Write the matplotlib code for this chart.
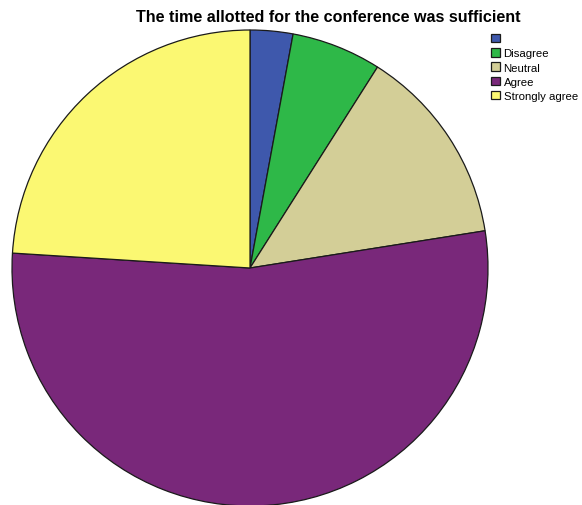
import matplotlib
matplotlib.use("Agg")
import matplotlib.pyplot as plt

plt.rcParams['font.family'] = ['Liberation Sans', 'DejaVu Sans']

# Response shares (percent), clockwise from 12 o'clock
labels = ["", "Disagree", "Neutral", "Agree", "Strongly agree"]
values = [2.9, 6.1, 13.5, 53.5, 24.0]
colors = ["#3E58AC", "#2EB848", "#D3CE97", "#79287A", "#FBF872"]
title = "The time allotted for the conference was sufficient"

W, H = 582, 506
fig = plt.figure(figsize=(W / 100, H / 100), dpi=100)
ax = fig.add_axes([0, 0, 1, 1])

wedges, _ = ax.pie(
    values,
    colors=colors,
    startangle=90,
    counterclock=False,
    center=(250, H - 269),
    radius=238,
    frame=True,
    wedgeprops=dict(edgecolor="#1a1a1a", linewidth=0.9),
)
ax.set_xlim(0, W)
ax.set_ylim(0, H)
ax.set_aspect("equal")
ax.axis("off")

fig.text(328 / W, 1 - 18 / H, title, ha="center", va="center",
         fontsize=11.6, fontweight="bold")

fig.legend(
    wedges, labels,
    loc="upper left",
    bbox_to_anchor=(491 / W, 1 - 35 / H),
    frameon=False,
    fontsize=8.2,
    handlelength=0.75,
    handleheight=0.75,
    handletextpad=0.35,
    labelspacing=0.36,
    borderpad=0,
    borderaxespad=0,
)

fig.savefig("out.png", dpi=100)
